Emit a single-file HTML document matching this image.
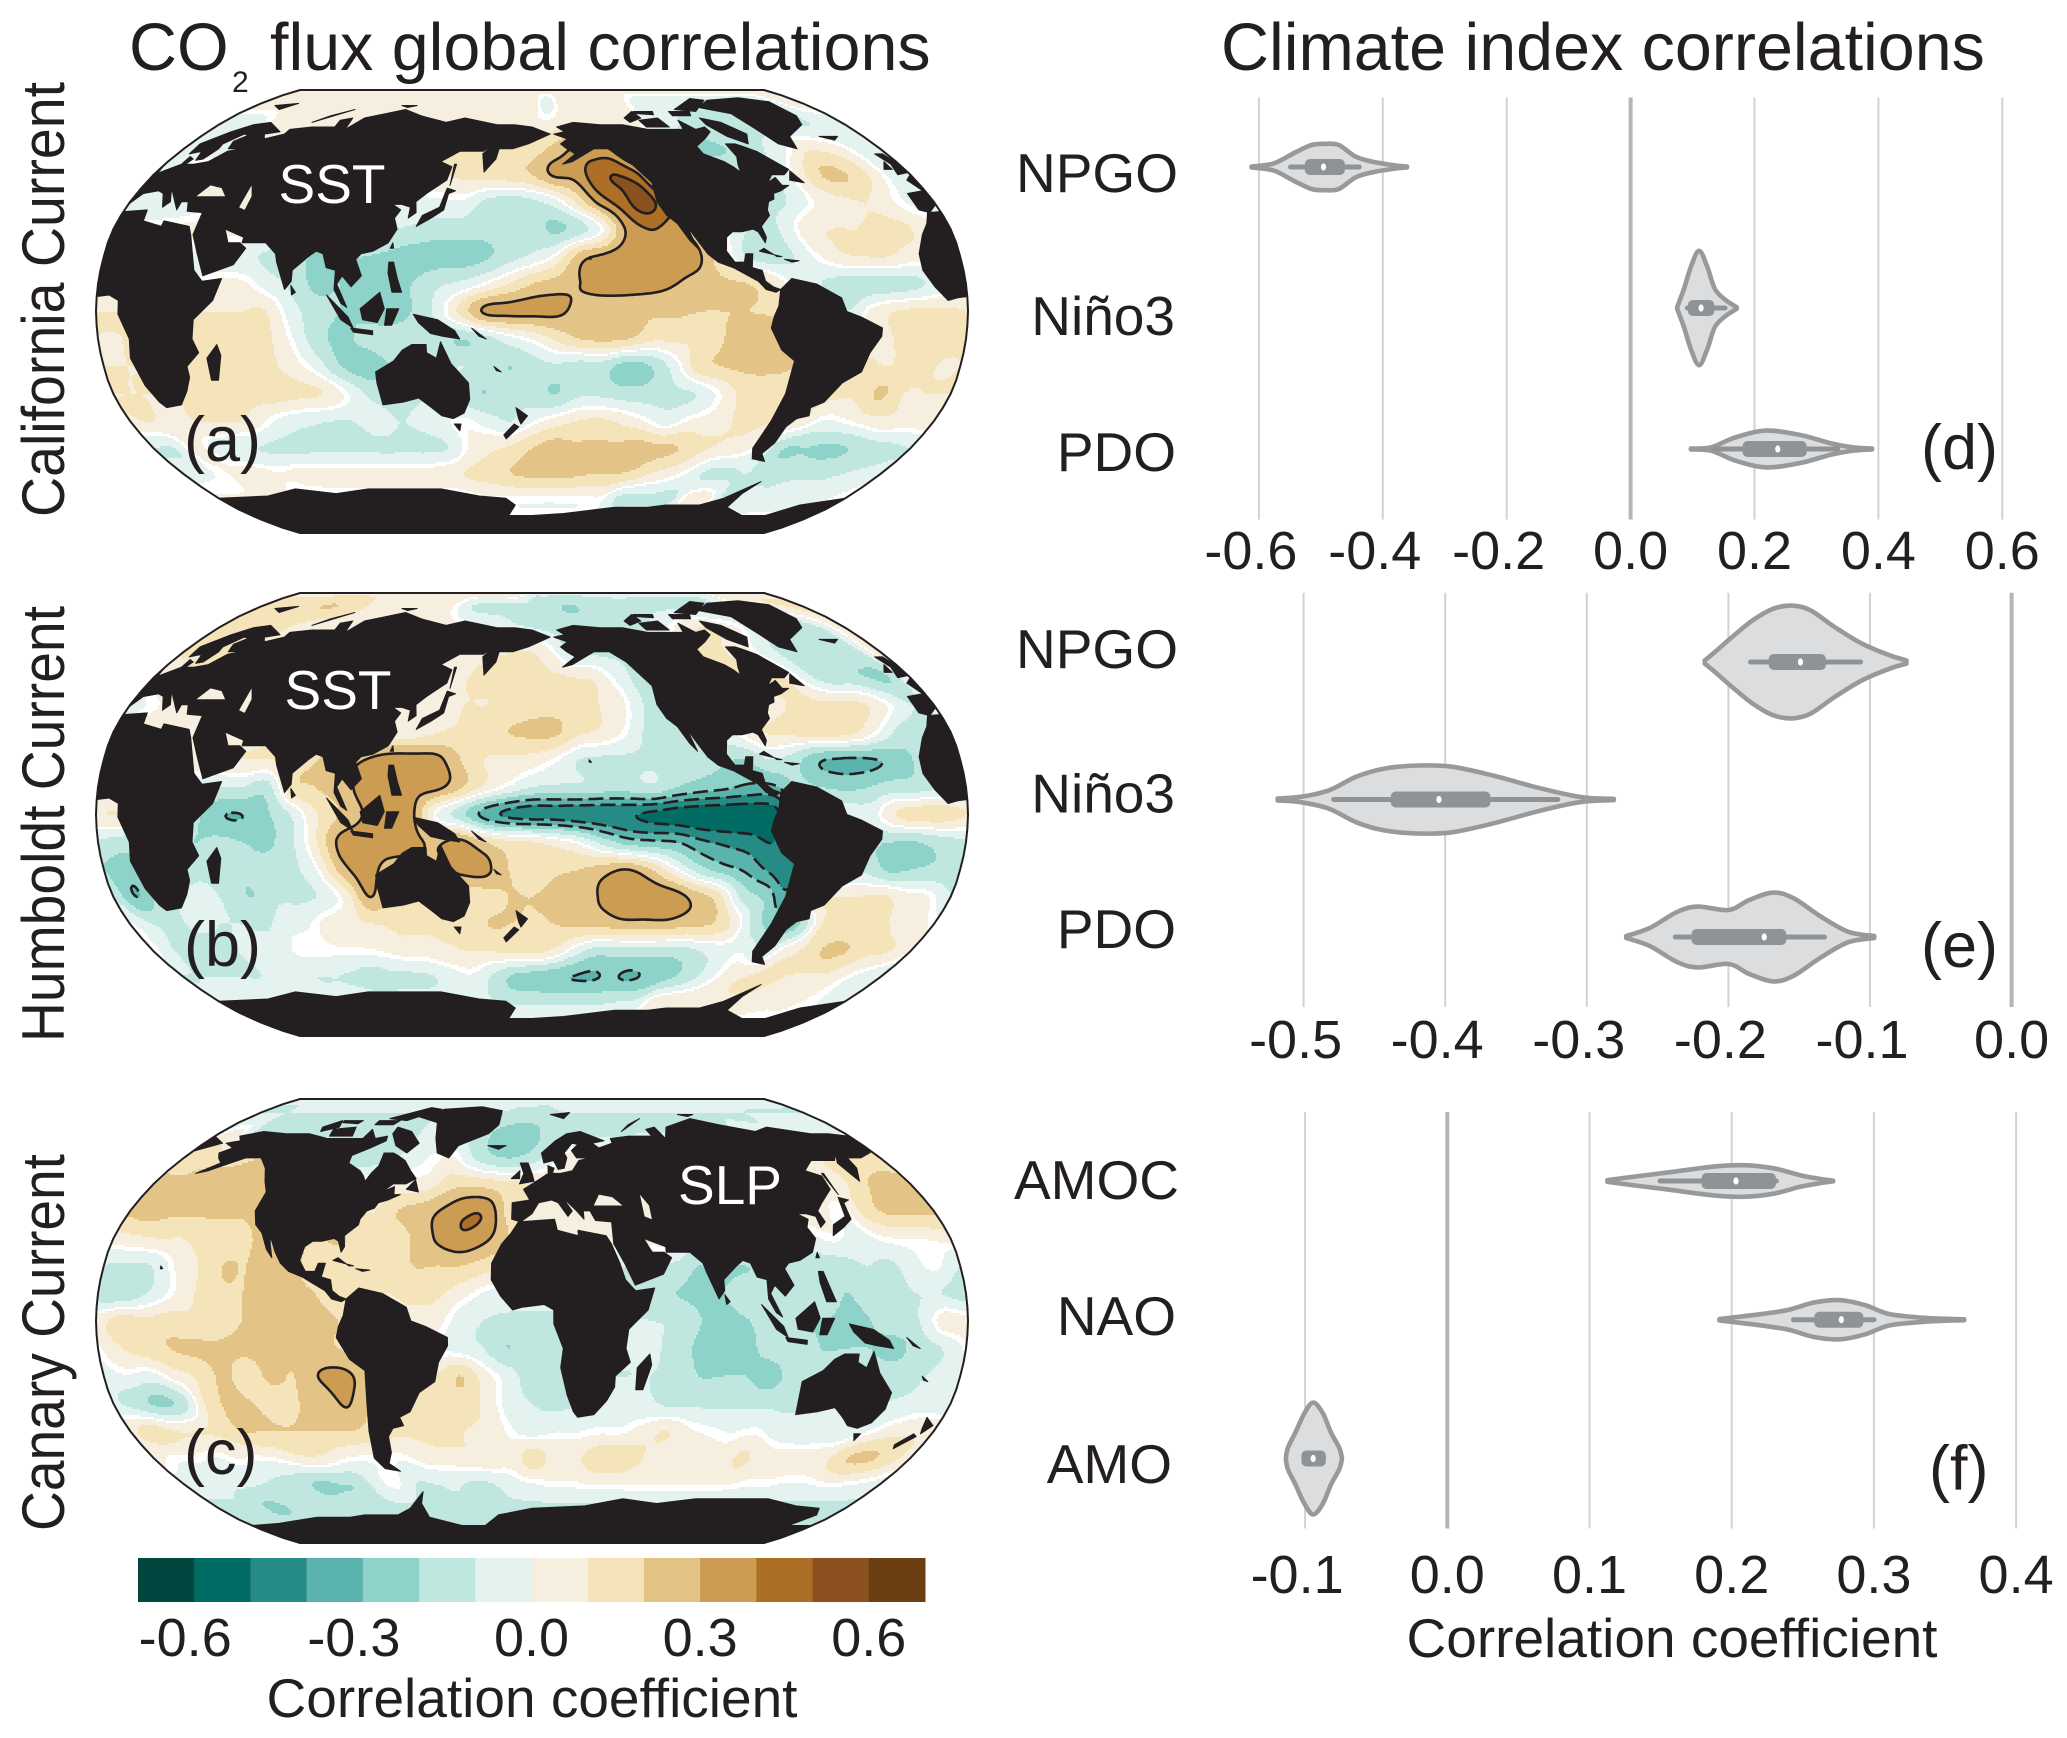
<!DOCTYPE html>
<html lang="en">
<head>
<meta charset="utf-8">
<title>CO2 flux and climate index correlations</title>
<style>
html,body{margin:0;padding:0;background:#fff}
svg{display:block}
text{font-family:"Liberation Sans",Arial,sans-serif;fill:#231f20}
</style>
</head>
<body>
<svg id="fig" xmlns="http://www.w3.org/2000/svg" width="2067" height="1738" viewBox="0 0 2067 1738">
<rect width="2067" height="1738" fill="#fff"/>
<g id="maps"></g>
<g id="colorbar"></g>
<g id="violins"></g>
<text font-size="66.4"><tspan x="129" y="70">CO</tspan><tspan x="232" y="92" font-size="30">2</tspan><tspan x="270" y="70">flux global correlations</tspan></text>
<text x="1221" y="70" font-size="66.4">Climate index correlations</text>
<text x="64" y="517" transform="rotate(-90 64 517)" font-size="60" textLength="435" lengthAdjust="spacingAndGlyphs">California Current</text>
<text x="64" y="1042" transform="rotate(-90 64 1042)" font-size="60" textLength="436" lengthAdjust="spacingAndGlyphs">Humboldt Current</text>
<text x="64" y="1531" transform="rotate(-90 64 1531)" font-size="60" textLength="377" lengthAdjust="spacingAndGlyphs">Canary Current</text>
<text x="332" y="203" text-anchor="middle" font-size="55" style="fill:#fff">SST</text>
<text x="338" y="709" text-anchor="middle" font-size="55" style="fill:#fff">SST</text>
<text x="730" y="1204" text-anchor="middle" font-size="55" style="fill:#fff">SLP</text>
<text x="184" y="461" font-size="63">(a)</text>
<text x="184" y="966" font-size="63">(b)</text>
<text x="184" y="1474" font-size="63">(c)</text>
<text x="1921" y="469" font-size="63">(d)</text>
<text x="1921" y="967" font-size="63">(e)</text>
<text x="1929" y="1490" font-size="63">(f)</text>
<text x="1672" y="1657" text-anchor="middle" font-size="55">Correlation coefficient</text>
<text x="532" y="1717" text-anchor="middle" font-size="55">Correlation coefficient</text>
</svg>
<script>
/* ---------- colour scale ---------- */
const bandColors = ['#01463f','#016c63','#268b85','#5ab3ac','#8ed3ca','#c0e6e0','#e4f3ef','#f6efe0','#f5e3b9','#e4c486','#cb9c52','#ad6f26','#8b521f','#6b3f12'];
const bandEdgeMin = -0.7;
const bandWidth = 0.1;
const colorbarTicks = [-0.6,-0.3,0.0,0.3,0.6];
const contourLevels = [0.3,0.4,0.5,-0.3,-0.4,-0.5];

/* ---------- correlation fields (x100), rows lat 90..-90 by 10, columns 10 deg apart ---------- */
const fieldA = [
[5,5,5,5,5,5,5,5,5,5,5,5,5,5,5,5,5,5,5,5,5,5,5,5,5,5,5,5,5,5,5,5,5,5,5,5],
[5,5,5,5,5,5,8,8,8,8,8,8,8,8,8,8,5,5,5,-5,5,5,5,5,3,-5,-8,-8,-8,-8,-8,-8,-8,-8,-5,3],
[-8,-8,-5,3,5,5,5,5,5,5,5,5,5,5,5,5,5,3,3,5,8,8,8,5,3,-5,-8,-12,-12,-12,-12,-12,-10,-10,-10,-8],
[-8,-8,-5,0,5,5,5,5,5,5,5,5,5,8,10,10,12,12,15,22,30,32,30,10,0,-10,-18,-22,-20,-15,-10,-3,8,8,3,-5],
[-5,5,5,5,5,5,5,5,5,5,5,5,5,5,10,12,14,16,20,31,33,45,50,42,15,5,-5,-10,-12,-12,-5,10,22,20,10,-3],
[-5,-8,-8,-5,0,0,0,0,0,0,0,0,0,-3,-3,-3,-12,-15,-12,-5,12,33,45,55,42,25,5,-5,-10,-12,-5,5,8,10,3,-3],
[3,3,3,3,3,3,3,0,-3,-5,-5,-8,-10,-12,-15,-15,-16,-14,-15,-22,-15,0,30,40,36,25,5,-8,-15,-5,8,10,10,12,12,5],
[5,5,5,0,-3,-5,-8,-12,-15,-22,-20,-20,-22,-25,-25,-25,-22,-14,-8,2,25,32,36,36,36,32,10,-10,-15,-10,0,8,10,10,5,5],
[0,0,0,0,0,3,3,-5,-12,-22,-20,-22,-22,-20,-12,-8,0,10,20,25,30,33,33,33,30,25,22,20,10,-5,-10,-15,-15,-15,-12,-5],
[10,10,10,10,10,10,10,10,-5,-15,-20,-22,-25,-20,-8,12,31,33,33,32,27,25,25,22,22,20,20,20,18,10,0,-10,3,10,12,12],
[10,10,12,12,12,15,15,12,0,-15,-22,-18,-15,-15,-15,-20,-15,-5,2,12,20,22,20,12,12,12,20,23,25,20,15,10,5,10,15,12],
[10,10,10,10,12,15,15,12,5,-5,-20,-25,-20,-15,-12,-10,-12,-20,-15,-12,-15,-15,-25,-20,-5,15,20,22,22,20,15,10,12,10,15,10],
[10,10,10,10,12,15,15,15,12,10,0,-12,-15,-12,-10,-15,-20,-12,-15,-20,-12,-12,-15,-15,-12,-10,0,12,15,15,15,12,12,22,10,10],
[8,10,5,10,10,10,2,-5,-8,-10,-10,-5,-10,-8,-3,0,-5,-10,-2,5,10,12,8,2,-5,2,5,10,12,10,8,-2,0,5,8,5],
[-10,-10,5,-5,-8,-10,-12,-12,-12,-12,-12,-12,-12,-12,-10,2,8,12,20,25,22,22,22,25,22,20,12,8,5,-5,-20,-20,-22,-20,-15,-12],
[-5,-3,0,5,5,2,4,5,5,5,5,5,5,5,8,12,15,20,22,23,22,20,20,18,10,5,-2,-12,-12,-10,-12,-12,-12,-12,-10,-8],
[2,2,2,2,2,-3,-3,-3,-3,-3,-3,-3,-3,-3,-3,0,0,0,0,0,0,0,0,-12,-12,-12,-12,5,5,-12,-8,-8,-5,-5,-5,-2],
[0,0,0,0,0,0,0,0,0,0,0,0,0,0,0,0,0,0,0,0,0,0,0,0,0,0,0,0,0,0,0,0,0,0,0,0],
[0,0,0,0,0,0,0,0,0,0,0,0,0,0,0,0,0,0,0,0,0,0,0,0,0,0,0,0,0,0,0,0,0,0,0,0]
];
const fieldB = [
[8,8,8,8,8,8,8,8,8,8,8,8,8,8,8,8,8,8,-8,-8,-8,-8,-8,-8,-8,-8,-8,-8,-8,-8,-8,-8,8,8,8,8],
[12,15,15,15,20,20,15,10,8,8,8,5,5,0,-10,-12,-12,-12,-12,-15,-20,-20,-15,-15,-12,-12,-12,-12,-12,-12,-12,-5,0,5,8,10],
[10,15,15,15,10,5,5,5,5,5,5,5,5,5,3,0,-3,-8,-10,-12,-15,-15,-15,-15,-12,-8,0,8,10,5,0,-10,-15,-15,-15,-5],
[10,10,12,10,8,8,8,8,8,8,8,8,8,8,8,8,8,10,10,2,-12,-12,-12,-10,0,5,10,12,10,5,-5,-12,-15,-15,-15,-10],
[0,10,10,10,10,10,10,10,10,10,10,10,10,10,10,10,12,12,12,12,10,8,-3,-12,-10,-5,5,10,12,12,10,-5,-15,-15,-20,-20],
[-5,0,5,10,8,8,8,8,8,8,8,8,8,8,8,10,10,12,15,15,15,10,4,-10,-12,-12,-10,-5,2,8,12,12,12,10,0,-10],
[0,5,5,5,5,5,5,8,8,8,8,8,5,5,10,12,15,20,22,22,12,8,0,-12,-12,-12,-8,2,10,12,15,15,10,-2,-15,-15],
[0,0,0,0,5,8,10,10,15,20,25,30,35,35,33,20,10,8,6,0,-10,-12,-12,-12,-14,-15,-18,-20,-10,-15,-28,-31,-31,-28,-20,-12],
[-5,-5,-5,-5,-5,-10,-10,-15,15,20,25,33,35,33,33,22,8,-2,-10,-12,-12,-15,-15,-12,-20,-25,-28,-32,-32,-20,-20,-22,-20,-15,-15,-10],
[10,10,5,0,-15,-28,-30,-22,-10,8,20,30,33,33,0,-15,-33,-42,-45,-45,-47,-48,-49,-52,-55,-57,-58,-58,-55,-30,-10,-5,-5,10,15,15],
[-12,-15,-15,-15,-20,-18,-20,-22,-12,8,32,35,36,33,28,33,20,12,10,5,-2,-15,-25,-28,-30,-38,-42,-45,-50,-35,-20,-15,-18,-20,-20,-15],
[-20,-25,-20,-18,-15,-18,-18,-15,-12,0,25,35,25,25,25,33,33,20,15,18,20,25,30,20,2,-15,-25,-32,-42,-48,-20,-15,-12,-22,-20,-18],
[-10,-30,-15,-10,-5,-15,-20,-12,-12,-8,5,30,15,15,15,12,15,20,20,22,25,31,36,37,36,26,15,-12,-22,-35,10,10,10,12,5,2],
[0,-10,-12,-8,-10,-10,-12,-5,-2,5,8,10,12,12,12,12,20,20,18,20,22,22,26,26,26,22,20,8,-15,-25,-20,10,12,12,10,5],
[2,-10,-12,-15,-10,-8,-5,0,0,0,0,2,5,5,8,10,10,12,12,8,-5,-15,-15,-15,-15,-15,-10,-5,-2,-10,5,12,22,20,12,10],
[-10,-10,-10,-10,-10,-8,-8,-10,-10,-12,-15,-12,-12,-10,-5,-3,-12,-22,-25,-28,-30,-31,-29,-31,-28,-22,-15,-5,5,10,12,10,8,8,2,-5],
[-5,-5,-5,-5,-5,-5,-5,-5,-5,-5,-5,-5,-5,-5,-5,-8,-10,-12,-12,-12,-12,-12,-12,-10,-8,5,8,8,8,8,8,5,3,3,0,-3],
[0,0,0,0,0,0,0,0,0,0,0,0,0,0,0,0,0,0,0,0,0,0,0,0,0,0,0,0,0,0,0,0,0,0,0,0],
[0,0,0,0,0,0,0,0,0,0,0,0,0,0,0,0,0,0,0,0,0,0,0,0,0,0,0,0,0,0,0,0,0,0,0,0]
];
/* fieldC columns begin at lon -180 */
const fieldC = [
[-8,-8,-8,-8,-8,-8,-8,-8,-8,-8,-8,-8,-8,-8,-8,-8,-8,-8,-8,-8,-8,-8,-8,-8,-8,-8,-8,-8,-8,-8,-8,-8,-8,-8,-8,-8],
[-10,-10,-10,-10,-10,-10,-10,-10,-10,-10,-10,-10,-10,-10,-10,-10,-10,-12,-12,-12,-10,-10,-10,-10,-10,-10,-10,-10,-10,-10,-10,-10,-10,-10,-10,-10],
[0,5,-10,-12,-10,-12,-12,-12,-12,-12,-12,-12,-8,-5,-10,-15,-22,-25,-25,-15,-12,-12,-12,-12,-10,-10,-10,-10,-10,-10,-8,-8,-8,-5,-5,-5],
[15,15,15,15,20,20,10,0,-10,-15,-15,-10,-5,0,2,-10,-18,-20,-15,-5,5,5,5,5,5,5,5,5,5,5,5,5,5,10,12,15],
[22,22,25,25,25,25,20,15,10,5,5,5,5,5,15,18,15,12,10,8,5,5,5,5,5,5,5,5,5,5,5,5,5,10,20,22],
[22,25,22,22,22,22,22,20,18,15,12,10,20,25,31,38,37,15,10,5,5,5,5,5,5,5,5,5,5,5,5,3,0,15,22,22],
[5,8,10,10,15,15,20,20,20,20,20,12,14,22,32,38,32,20,5,5,5,5,5,5,5,-5,-5,-5,-5,-5,-3,0,-5,0,2,2],
[-10,-12,-10,2,10,20,20,25,22,15,15,12,12,20,20,20,15,10,5,0,-5,-8,-10,-12,-12,-20,-20,-20,-18,-15,-15,-15,-10,-12,-5,0],
[-15,-18,-10,0,10,18,20,22,22,20,15,12,10,12,12,5,-2,-5,-5,-5,-5,-8,-10,-15,-20,-22,-20,-15,-15,-15,-12,-20,-15,-12,-10,-10],
[5,15,12,15,12,15,20,22,22,22,20,12,8,8,5,-5,-10,-12,-12,-12,-10,-10,-10,-10,-12,-20,-22,-20,-15,-20,-20,-22,-20,-12,-10,5],
[0,10,15,20,22,22,22,22,22,22,20,15,10,5,0,-5,-10,-20,-12,-12,-10,-10,-8,-8,-15,-22,-22,-22,-15,-12,-20,-20,-20,-25,-15,-10],
[-5,-2,-5,5,12,22,15,22,20,30,33,25,15,12,10,20,5,-5,-15,-12,-10,-10,-10,-10,-12,-20,-20,-20,-25,-15,-12,-12,-12,-12,-12,-8],
[-8,-15,-22,-15,12,22,20,15,20,22,31,20,15,12,12,15,8,-5,-10,-12,-10,-8,-5,-8,-12,-12,-12,-12,-12,-12,-10,-10,-10,-10,-8,-5],
[8,15,10,10,12,20,20,20,20,20,20,15,12,12,15,10,8,0,-5,-2,-2,0,0,5,10,3,0,-2,0,-5,-8,-8,-8,-2,5,8],
[5,0,0,-2,2,0,2,8,8,2,0,0,0,5,5,8,8,5,15,8,8,15,18,12,5,5,5,5,12,5,5,5,8,20,22,15],
[-5,-5,-8,-8,-10,-12,-15,-22,-20,-18,-5,0,-10,-10,-8,-12,-10,-5,-2,0,0,2,2,2,2,2,2,2,2,0,0,-2,-2,0,0,-2],
[-12,-12,-12,-22,-20,-12,-12,-12,-12,-12,-12,-12,-12,-12,-12,-12,-12,-12,-12,-12,-12,-12,-12,-12,-12,-12,-12,-12,-12,-12,-12,-12,-12,-12,-12,-12],
[-10,-10,-10,-10,-10,-10,-10,-10,-10,-10,-10,-10,-10,-10,-10,-10,-10,-10,-10,-10,-10,-10,-10,-10,-10,-10,-10,-10,-10,-10,-10,-10,-10,-10,-10,-10],
[-10,-10,-10,-10,-10,-10,-10,-10,-10,-10,-10,-10,-10,-10,-10,-10,-10,-10,-10,-10,-10,-10,-10,-10,-10,-10,-10,-10,-10,-10,-10,-10,-10,-10,-10,-10]
];

/* ---------- land outlines, flat lon,lat lists ---------- */
const landRings = [
[-168,66,-162,67,-166,69,-156,71,-141,70,-128,70,-115,68,-108,68,-95,68,-94,72,-88,68,-82,69,-81,67,-87,64,-94,61,-93,58,-85,55,-82,53,-80,51,-79,54,-77,57,-78,62,-73,62,-70,61,-65,59,-60,55,-56,52,-60,50,-66,50,-70,47,-65,49,-64,46,-61,46,-66,44,-70,43,-71,41,-74,40,-76,37,-76,35,-81,31,-80,27,-81,25,-83,29,-85,30,-90,29,-94,29,-97,27,-98,22,-95,18,-91,18,-90,21,-87,21,-88,16,-84,15,-83,11,-80,9,-77,8,-79,7,-83,8,-86,11,-92,14,-96,16,-102,18,-106,21,-109,25,-113,31,-112,28,-110,23,-113,26,-117,32,-121,35,-124,40,-124,47,-128,51,-133,56,-140,60,-148,60,-153,58,-160,55,-165,54,-158,58,-162,60,-165,62,-161,64],
[-77,8,-72,12,-62,10,-52,5,-50,0,-44,-2,-35,-6,-35,-9,-39,-15,-41,-22,-48,-26,-53,-33,-58,-35,-57,-38,-62,-39,-65,-42,-66,-48,-69,-52,-65,-55,-72,-54,-75,-50,-73,-40,-71,-30,-70,-18,-76,-14,-81,-6,-80,-2,-78,2],
[-73,78,-60,82,-35,83.5,-20,81,-20,74,-25,70,-40,65,-43,60,-50,62,-54,68,-58,75],
[-80,73,-70,71,-62,66,-66,62,-74,65,-80,70],
[-117,72,-105,73,-102,69,-115,69],
[-90,77,-70,83,-62,82,-78,76],
[-125,73,-118,76,-115,73,-123,71],
[-95,76,-82,76,-84,74,-95,74],
[-117,76,-105,76,-106,74.5,-116,75],
[-59,48,-53,47,-56,51.5],
[-84,22,-75,20,-77,20,-82,23],
[-74,19,-68,18.5,-71,18],
[-24,65,-14,65,-18,63.5],
[-10,52,-6,55,-6,52],
[-6,50,1,51,0,54,-2,58,-6,58,-4,54],
[-156,20,-155,19,-156,19],
[-17,15,-17,21,-13,28,-9,32,-6,36,10,37,11,33,20,31,20,33,32,31,34,28,37,21,39,15,43,11,51,12,48,4,40,-3,39,-10,41,-15,35,-20,35,-24,32,-29,27,-34,20,-35,18,-33,15,-27,12,-17,13,-10,9,-1,9,4,5,6,-4,5,-8,4,-13,9],
[49,-12,50,-16,47,-25,44,-25,44,-17],
[-9,37,-9,43,-1,44,-4,48,2,51,8,54,8,57,11,56,10,54,14,54,20,55,24,59,30,60,23,60,21,63,25,65.5,22,66,17,62,18,60,16,56,13,55.5,11,59,6,58,5,62,13,67,20,70,28,71,40,67,33,66,36,64,44,66,44,68,55,69,68,69,67,72,73,73,75,68,80,73,100,77,113,74,130,71,140,73,160,70,170,70,180,69,190,66,181,63,178,62,170,60,163,60,162,56,157,51,155,58,160,62,155,59,143,59,135,55,141,53,140,48,132,43,128,40,129,36,126,34,126,38,122,39,118,39,122,37,120,34,122,30,119,25,113,22,108,21,106,19,109,13,105,9,101,13,99,10,103.5,1.5,101,3,98,8,98,15,94,16,92,21,89,22,86,20,80,15,80,11,77.5,8,73,18,72,21,67,25,57,25,57,27,51,29,48,30,51,25,56,25,59,23,55,17,43,13,39,21,35,28,35,36,28,36.5,26,40,23,40,23,37,20,40,14,45,18,40,16,38,12,43,9,44,3,43,0,39,-5,36],
[130,31,136,34,141,37,142,43,145,44,141,45,139,38,132,35],
[142,46,143,54,142,54],
[109,1,117,7,119,1,116,-4,110,-3],
[95,6,104,-2,106,-6,101,-3],
[105,-6,114,-7,114,-8.5,106,-7.5],
[119,-5,120,1,125,1,122,-5],
[120,18,122,18,124,12,126,7,122,7,120,14],
[131,-1,141,-3,148,-7,150,-10,143,-9,138,-8,133,-4],
[114,-22,122,-18,126,-14,130,-12,136,-12,136,-15,140,-17,142,-11,146,-19,153,-26,153,-32,150,-37,145,-39,140,-38,136,-35,131,-31.5,124,-33,115,-34,114,-26],
[145,-41,148,-41,147,-43.5],
[173,-35,178,-38,175,-41,174,-39],
[172,-41,174,-42,168,-46.5,167,-45],
[80,9.5,82,7,80.5,6],
[120,23,121,25,121.5,23],
[12,79,25,80,20,77],
[52,71,68,77,58,74],
[95,79,105,79,100,78],
[164,-20,167,-22,165,-21.5],
[155,-6,161,-10,158,-9],
[-180,-78,-160,-77,-150,-76,-130,-74,-110,-74,-100,-73,-80,-73,-70,-70,-58,-63,-62,-68,-62,-74,-45,-78,-30,-78,-20,-73,0,-70,30,-69,50,-66,70,-68,90,-66,110,-66,130,-66,150,-69,165,-70,170,-73,165,-78,180,-78,180,-90,-180,-90]
];
const inlandSeas = [
[28,42,31,46,37,45,41,42,35,42],
[50,46,53,42,53,37,50,38]
];

/* ---------- panel (d) violin data ---------- */
const categoriesD = ['NPGO','Niño3','PDO'];
const ticksD = [-0.6,-0.4,-0.2,0.0,0.2,0.4,0.6];
const npgoDValues = [-0.612,-0.576,-0.543,-0.515,-0.493,-0.471,-0.444,-0.416,-0.383,-0.361];
const npgoDDensity = [0.1,0.9,3.5,5.5,5.8,5.5,2.6,1.3,0.45,0.1];
const npgoDBox = [-0.549,-0.521,-0.4957,-0.466,-0.438];
const nino3DValues = [0.0752,0.0862,0.0973,0.1105,0.1238,0.1359,0.1525,0.1712];
const nino3DDensity = [0.2,4.8,10.3,14.3,10.3,4.8,2.1,0.2];
const nino3DBox = [0.0917,0.0973,0.1138,0.1304,0.1525];
const pdoDValues = [0.0973,0.1304,0.169,0.2187,0.2739,0.3236,0.3567,0.3899];
const pdoDDensity = [0.1,0.45,2.9,4.6,3.5,1.4,0.45,0.1];
const pdoDBox = [0.1359,0.1856,0.2375,0.2794,0.3346];

/* ---------- panel (e) violin data ---------- */
const categoriesE = ['NPGO','Niño3','PDO'];
const ticksE = [-0.5,-0.4,-0.3,-0.2,-0.1,0.0];
const npgoEValues = [-0.2167,-0.2095,-0.1974,-0.1829,-0.1684,-0.1549,-0.1419,-0.125,-0.1057,-0.0864,-0.0743];
const npgoEDensity = [0.4,2.5,6.25,10.4,13.3,14.1,12.9,8.75,4.6,1.7,0.4];
const npgoEBox = [-0.1844,-0.1694,-0.1491,-0.1332,-0.1067];
const nino3EValues = [-0.5183,-0.5014,-0.4821,-0.4628,-0.4435,-0.4194,-0.3953,-0.3663,-0.3373,-0.3132,-0.2987,-0.2809];
const nino3EDensity = [0.25,0.7,2.3,5.7,7.7,8.5,8.2,6,3.2,1.2,0.4,0.15];
const nino3EBox = [-0.4788,-0.4363,-0.4044,-0.3702,-0.3205];
const pdoEValues = [-0.2722,-0.2553,-0.236,-0.2215,-0.1998,-0.1853,-0.1684,-0.154,-0.1347,-0.1153,-0.097];
const pdoEDensity = [0.25,2.3,6.3,7.6,6.75,9.25,11.1,9.7,5.1,1.3,0.25];
const pdoEBox = [-0.2375,-0.2239,-0.1747,-0.1612,-0.1322];

/* ---------- panel (f) violin data ---------- */
const categoriesF = ['AMOC','NAO','AMO'];
const ticksF = [-0.1,0.0,0.1,0.2,0.3,0.4];
const amocFValues = [0.1126,0.1328,0.1568,0.1857,0.2073,0.229,0.2482,0.2626,0.2713];
const amocFDensity = [0.2,1.15,2.2,3.55,3.95,3.2,1.45,0.5,0.1];
const amocFBox = [0.1496,0.1809,0.203,0.229,0.2314];
const naoFValues = [0.1914,0.2145,0.2386,0.2578,0.2761,0.2939,0.3107,0.3348,0.3636];
const naoFDensity = [0.2,1.15,2.4,4.3,4.9,3.65,1.45,0.5,0.1];
const naoFBox = [0.2434,0.2602,0.2771,0.2905,0.3001];
const amoFValues = [-0.1135,-0.1121,-0.1068,-0.1005,-0.0943,-0.0875,-0.0818,-0.076,-0.0741];
const amoFDensity = [0.2,2.7,6.5,11.3,14,11.3,6.5,2.7,0.2];
const amoFBox = [-0.1005,-0.1005,-0.0943,-0.0875,-0.0875];

/* ---------- helpers ---------- */
const SVGNS = 'http://www.w3.org/2000/svg';
function make(tag, attrs, parent){
  const e = document.createElementNS(SVGNS, tag);
  for (const k in attrs) e.setAttribute(k, attrs[k]);
  parent.appendChild(e);
  return e;
}
const PLEN = [1,0.9986,0.9954,0.99,0.9822,0.973,0.96,0.9427,0.9216,0.8962,0.8679,0.835,0.7986,0.7597,0.7186,0.6732,0.6213,0.5722,0.5322];
const PDFE = [0,0.062,0.124,0.186,0.248,0.31,0.372,0.434,0.4958,0.5571,0.6176,0.6769,0.7346,0.7903,0.8435,0.8936,0.9394,0.9761,1];
function robPlen(lat){
  const a = Math.min(Math.abs(lat),90)/5, i = Math.min(Math.floor(a),17), t = a-i;
  return PLEN[i]+(PLEN[i+1]-PLEN[i])*t;
}
function robY(lat){
  const a = Math.min(Math.abs(lat),90)/5, i = Math.min(Math.floor(a),17), t = a-i;
  return (PDFE[i]+(PDFE[i+1]-PDFE[i])*t)*(lat<0?-1:1);
}
function robLat(yn){
  const s = yn<0?-1:1, y = Math.min(Math.abs(yn),1);
  let i = 0;
  while (i<17 && PDFE[i+1]<y) i++;
  return s*5*(i+(y-PDFE[i])/(PDFE[i+1]-PDFE[i]));
}
function cr(a,b,c,d,t){
  return b+0.5*t*(c-a+t*(2*a-5*b+4*c-d+t*(3*(b-c)+d-a)));
}
function fieldAt(map, lon, lat){
  const f = map.field;
  const u = (((lon-map.gridLon0)%360)+360)%360/10;
  const v = (90-lat)/10;
  const c0 = Math.floor(u), r0 = Math.min(Math.floor(v),17);
  const tu = u-c0, tv = v-r0;
  const col = new Array(4);
  for (let k=0;k<4;k++){
    const r = f[Math.max(0,Math.min(18,r0+k-1))];
    col[k] = cr(r[(c0+35)%36],r[c0%36],r[(c0+1)%36],r[(c0+2)%36],tu);
  }
  return cr(col[0],col[1],col[2],col[3],tv)/100;
}
function bandOf(v){
  if (Math.abs(v)<0.015) return -1;
  return Math.max(0,Math.min(bandColors.length-1,Math.floor((v-bandEdgeMin)/bandWidth)));
}

/* ---------- maps ---------- */
const maps = [
  {id:'a',cx:532,cy:311.5,hw:436,hh:221.5,lon0:180,gridLon0:0,field:fieldA},
  {id:'b',cx:532,cy:814.5,hw:436,hh:221.5,lon0:180,gridLon0:0,field:fieldB},
  {id:'c',cx:532,cy:1321,hw:436,hh:222,lon0:0,gridLon0:-180,field:fieldC}
];
function project(map,lon,lat,shift){
  const d = lon+shift-map.lon0;
  return [map.cx+map.hw*robPlen(lat)*d/180, map.cy-map.hh*robY(lat)];
}
function ringsPath(map,rings){
  let s = '';
  for (const ring of rings){
    for (const shift of [-360,0,360]){
      let mn=1e9,mx=-1e9;
      for (let i=0;i<ring.length;i+=2){const d=ring[i]+shift-map.lon0;if(d<mn)mn=d;if(d>mx)mx=d;}
      if (mx<-180||mn>180) continue;
      for (let i=0;i<ring.length;i+=2){
        const p = project(map,ring[i],ring[i+1],shift);
        s += (i?'L':'M')+p[0].toFixed(1)+' '+p[1].toFixed(1);
      }
      s += 'Z';
    }
  }
  return s;
}
function outlinePath(map){
  let s='';
  for (let lat=90;lat>=-90;lat-=5){
    const p=[map.cx+map.hw*robPlen(lat),map.cy-map.hh*robY(lat)];
    s+=(s?'L':'M')+p[0].toFixed(1)+' '+p[1].toFixed(1);
  }
  for (let lat=-90;lat<=90;lat+=5){
    const p=[map.cx-map.hw*robPlen(lat),map.cy-map.hh*robY(lat)];
    s+='L'+p[0].toFixed(1)+' '+p[1].toFixed(1);
  }
  return s+'Z';
}
function contourPath(vals,x0,y0,step,level){
  const rows=vals.length, colsN=vals[0].length;
  const pts=new Map(), adj=new Map();
  function hPoint(r,c){
    const k='h'+r+'_'+c;
    if(!pts.has(k)){const a=vals[r][c],b=vals[r][c+1];pts.set(k,[x0+step*(c+(level-a)/(b-a)),y0+step*r]);adj.set(k,[]);}
    return k;
  }
  function vPoint(r,c){
    const k='v'+r+'_'+c;
    if(!pts.has(k)){const a=vals[r][c],b=vals[r+1][c];pts.set(k,[x0+step*c,y0+step*(r+(level-a)/(b-a))]);adj.set(k,[]);}
    return k;
  }
  for(let r=0;r<rows-1;r++){
    for(let c=0;c<colsN-1;c++){
      const a=vals[r][c],b=vals[r][c+1],d=vals[r+1][c],e=vals[r+1][c+1];
      if(a!==a||b!==b||d!==d||e!==e) continue;
      const cross=[];
      if((a>level)!==(b>level)) cross.push(hPoint(r,c));
      if((b>level)!==(e>level)) cross.push(vPoint(r,c+1));
      if((d>level)!==(e>level)) cross.push(hPoint(r+1,c));
      if((a>level)!==(d>level)) cross.push(vPoint(r,c));
      for(let i=0;i+1<cross.length;i+=2){adj.get(cross[i]).push(cross[i+1]);adj.get(cross[i+1]).push(cross[i]);}
    }
  }
  const seen=new Set();
  let out='';
  function walk(start){
    const line=[start];seen.add(start);
    let cur=start;
    for(;;){
      const nx=adj.get(cur).find(n=>!seen.has(n));
      if(nx===undefined) break;
      seen.add(nx);line.push(nx);cur=nx;
    }
    if(line.length<8) return;
    line.forEach((k,i)=>{const p=pts.get(k);out+=(i?'L':'M')+p[0].toFixed(1)+' '+p[1].toFixed(1);});
    if(adj.get(cur).includes(start)) out+='Z';
  }
  adj.forEach((v,k)=>{if(v.length===1&&!seen.has(k))walk(k);});
  adj.forEach((v,k)=>{if(!seen.has(k))walk(k);});
  return out;
}
const mapsRoot = document.getElementById('maps');
const STEP = 2;
maps.forEach(map=>{
  const group = make('g',{},mapsRoot);
  
  
  const outline = outlinePath(map);
  const clip = make('clipPath',{id:'clip-'+map.id},group);
  make('path',{d:outline},clip);
  const clipped = make('g',{'clip-path':'url(#clip-'+map.id+')'},group);
  
  
  const strips = bandColors.map(()=>[]);
  const whiteStrips = [];
  const x0 = Math.round(map.cx-map.hw)-2, x1 = Math.round(map.cx+map.hw)+2;
  const y0 = Math.round(map.cy-map.hh)-2, y1 = Math.round(map.cy+map.hh)+2;
  const vals = [];
  for(let py=y0;py<y1;py+=STEP){
    const yn=(map.cy-(py+STEP/2))/map.hh;
    const lat=robLat(Math.max(-1,Math.min(1,yn)));
    const plen=robPlen(lat);
    const row=[];
    let runBand=null,runStart=x0;
    for(let px=x0;px<x1;px+=STEP){
      const d=(px+STEP/2-map.cx)/(map.hw*plen)*180;
      let v=NaN;
      if(Math.abs(d)<=186) v=fieldAt(map,map.lon0+d,lat);
      row.push(v);
      const band=v===v?bandOf(v):null;
      if(band!==runBand){
        if(runBand!==null){
          (runBand===-1?whiteStrips:strips[runBand]).push('M'+runStart+' '+py+'h'+(px-runStart)+'v'+STEP+'h'+(runStart-px)+'z');
        }
        runBand=band;runStart=px;
      }
    }
    if(runBand!==null){
      (runBand===-1?whiteStrips:strips[runBand]).push('M'+runStart+' '+py+'h'+(x1-runStart)+'v'+STEP+'h'+(runStart-x1)+'z');
    }
    vals.push(row);
  }
  const fieldGroup = make('g',{'shape-rendering':'crispEdges'},clipped);
  
  
  strips.forEach((list,k)=>{
    if(!list.length) return;
    const band = make('path',{d:list.join(''),fill:bandColors[k]},fieldGroup);
    
    
  });
  if(whiteStrips.length){
    const zero = make('path',{d:whiteStrips.join(''),fill:'#ffffff'},fieldGroup);
    
    
  }
  contourLevels.forEach(level=>{
    const d = contourPath(vals,x0+STEP/2,y0+STEP/2,STEP,level);
    if(!d) return;
    const attrs = {d:d,fill:'none',stroke:'#231f20','stroke-width':2.6,'stroke-linejoin':'round','stroke-linecap':'butt'};
    if(level<0) attrs['stroke-dasharray']='15 6';
    const line = make('path',attrs,clipped);
    
    
  });
  const land = make('path',{d:ringsPath(map,landRings),fill:'#231f20','stroke':'#231f20','stroke-width':1,'stroke-linejoin':'round'},clipped);
  
  
  const seas = make('path',{d:ringsPath(map,inlandSeas),fill:'#f6efe0'},clipped);
  
  
  const border = make('path',{d:outline,fill:'none',stroke:'#231f20','stroke-width':2},group);
  
  
});

/* ---------- colour bar ---------- */
const cbRoot = document.getElementById('colorbar');
const cbX = v => 138+(v-bandEdgeMin)/(bandWidth*bandColors.length)*787;
bandColors.forEach((c,i)=>{
  const v0 = bandEdgeMin+i*bandWidth;
  const r = make('rect',{x:cbX(v0),y:1558,width:cbX(v0+bandWidth)-cbX(v0)+0.5,height:44,fill:c},cbRoot);
  
  
});
colorbarTicks.forEach(v=>{
  const t = make('text',{x:cbX(v)+(v<0?-9:0),y:1656,'text-anchor':'middle','font-size':54},cbRoot);
  t.textContent = v.toFixed(1);
  
  
});

/* ---------- violin panels ---------- */
const panels = [
  {id:'d',zero:1630.6,scale:619.5,top:97.5,bottom:519.5,tickY:569,rowY:167,rowStep:141,labelDy:[25,27,22],labelRight:[1178,1175,1176],ticks:ticksD,cats:categoriesD,
   series:[[npgoDValues,npgoDDensity,npgoDBox],[nino3DValues,nino3DDensity,nino3DBox],[pdoDValues,pdoDDensity,pdoDBox]]},
  {id:'e',zero:2011.6,scale:1416,top:592.7,bottom:1007,tickY:1058,rowY:662,rowStep:137.5,labelDy:[6,13,11],labelRight:[1178,1175,1176],ticks:ticksE,cats:categoriesE,
   series:[[npgoEValues,npgoEDensity,npgoEBox],[nino3EValues,nino3EDensity,nino3EBox],[pdoEValues,pdoEDensity,pdoEBox]]},
  {id:'f',zero:1447.3,scale:1422,top:1112,bottom:1528.5,tickY:1593,rowY:1181,rowStep:138.75,labelDy:[18,15,24.5],labelRight:[1179,1176,1172],ticks:ticksF,cats:categoriesF,
   series:[[amocFValues,amocFDensity,amocFBox],[naoFValues,naoFDensity,naoFBox],[amoFValues,amoFDensity,amoFBox]]}
];
const DENSITY_PX = 4;
function smoothThrough(pts,startCmd){
  let s = startCmd+pts[0][0].toFixed(1)+' '+pts[0][1].toFixed(1);
  for(let i=0;i<pts.length-1;i++){
    const p0=pts[Math.max(0,i-1)],p1=pts[i],p2=pts[i+1],p3=pts[Math.min(pts.length-1,i+2)];
    const c1x=p1[0]+(p2[0]-p0[0])/6,c1y=p1[1]+(p2[1]-p0[1])/6;
    const c2x=p2[0]-(p3[0]-p1[0])/6,c2y=p2[1]-(p3[1]-p1[1])/6;
    s+='C'+c1x.toFixed(1)+' '+c1y.toFixed(1)+' '+c2x.toFixed(1)+' '+c2y.toFixed(1)+' '+p2[0].toFixed(1)+' '+p2[1].toFixed(1);
  }
  return s;
}
const violinRoot = document.getElementById('violins');
panels.forEach(panel=>{
  const xOf = v => panel.zero+v*panel.scale;
  const rowOf = i => panel.rowY+i*panel.rowStep;
  const g = make('g',{},violinRoot);
  
  
  panel.ticks.forEach(v=>{
    const isZero = v===0;
    const line = make('line',{x1:xOf(v),x2:xOf(v),y1:panel.top,y2:panel.bottom,stroke:isZero?'#b3b5b6':'#d1d2d3','stroke-width':isZero?4:2},g);
    
    
    const label = make('text',{x:xOf(v)+(v<0?-8:0),y:panel.tickY,'text-anchor':'middle','font-size':54},g);
    label.textContent = v.toFixed(1);
    
    
  });
  panel.cats.forEach((name,i)=>{
    const yc = rowOf(i);
    const label = make('text',{x:panel.labelRight[i],y:yc+panel.labelDy[i],'text-anchor':'end','font-size':55},g);
    label.textContent = name;
    
    
    const values = panel.series[i][0], density = panel.series[i][1], box = panel.series[i][2];
    const upper = values.map((v,k)=>[xOf(v),yc-density[k]*DENSITY_PX]);
    const lower = values.map((v,k)=>[xOf(v),yc+density[k]*DENSITY_PX]).reverse();
    const body = make('path',{d:smoothThrough(upper,'M')+smoothThrough(lower,'L')+'Z',fill:'#dcddde',stroke:'#97999b','stroke-width':4.6,'stroke-linejoin':'round'},g);
    
    
    const whisker = make('line',{x1:xOf(box[0]),x2:xOf(box[4]),y1:yc,y2:yc,stroke:'#909395','stroke-width':5,'stroke-linecap':'round'},g);
    
    
    const iqr = make('rect',{x:xOf(box[1])-3,y:yc-8,width:xOf(box[3])-xOf(box[1])+6,height:16,rx:5,fill:'#909395'},g);
    
    
    const med = make('ellipse',{cx:xOf(box[2]),cy:yc,rx:2.6,ry:3.6,fill:'#ffffff'},g);
    
    
  });
});
</script>
</body>
</html>
